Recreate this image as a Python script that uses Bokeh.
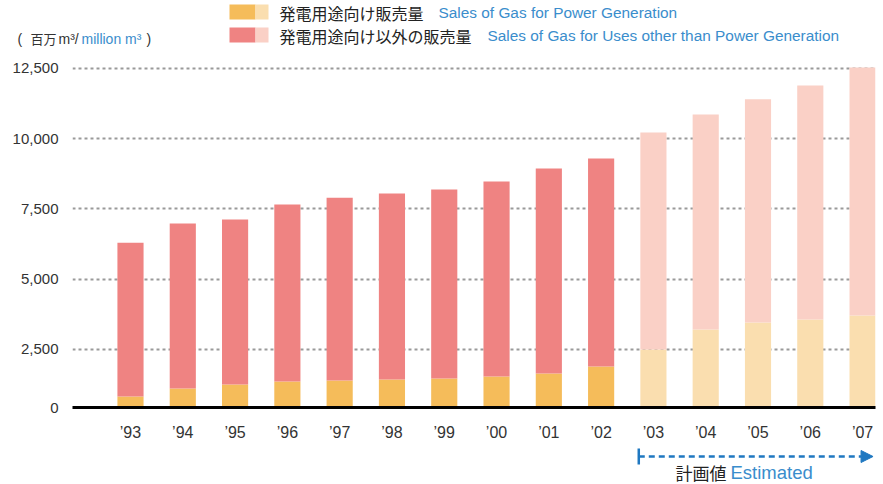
from bokeh.plotting import figure
from bokeh.layouts import column, row
from bokeh.models import (Range1d, FixedTicker, Label, Arrow,
                          NormalHead, TeeHead, ColumnDataSource)
from bokeh.embed import file_html
from bokeh.resources import INLINE

# ---------------- data ----------------
years = ["’93", "’94", "’95", "’96", "’97", "’98", "’99", "’00",
         "’01", "’02", "’03", "’04", "’05", "’06", "’07"]
power_gen = [830, 1110, 1255, 1360, 1400, 1435, 1470, 1540,
             1650, 1895, 2500, 3210, 3460, 3570, 3710]
other_uses = [5470, 5870, 5865, 6300, 6500, 6615, 6720, 6930,
              7290, 7395, 7720, 7650, 7940, 8320, 8820]
n_actual = 10          # '93-'02 actual, '03-'07 estimated
y_ticks = [2500, 5000, 7500, 10000, 12500]

# ---------------- style ----------------
DARK = "#333333"
BLUE_TXT = "#3a8dcc"
BLUE_ARROW = "#1f78c1"
C_POW, C_POW_EST = "#f5bc5a", "#fadeaf"
C_OTH, C_OTH_EST = "#ef8382", "#fad0c6"
LATIN = "Liberation Sans"
CJK = "Noto Sans CJK JP"

W = 883
TOP_H, MAIN_H, BOT_H = 50, 395, 39
ML, MR, MT, MB = 72, 8, 0, 38
FW = W - ML - MR
X0, X1 = -1.109, len(years) - 1 + 0.247
Y0, Y1 = 437, 13133

def xpage(i):
    return ML + (i - X0) / (X1 - X0) * FW

def blank(h, y_top):
    f = figure(width=W, height=h, output_backend="svg", toolbar_location=None,
               x_range=Range1d(0, W), y_range=Range1d(y_top + h, y_top),
               min_border=0, min_border_left=0, min_border_right=0,
               min_border_top=0, min_border_bottom=0,
               x_axis_location=None, y_axis_location=None)
    f.outline_line_color = None
    f.xgrid.visible = False
    f.ygrid.visible = False
    return f

def lab(f, text, px, py, color=DARK, font=LATIN, size="15px"):
    f.add_layout(Label(x=px, y=py, text=text, text_color=color,
                       text_font=font, text_font_size=size,
                       text_baseline="middle", text_align="left"))

# ---------------- top: legend + unit ----------------
top = blank(TOP_H, 0)
for (t, b), c1, c2 in [((4, 19), C_POW, C_POW_EST), ((27, 42), C_OTH, C_OTH_EST)]:
    top.quad(left=[229, 255], right=[255, 268], top=[t, t], bottom=[b, b],
             fill_color=[c1, c2], line_color=None)
lab(top, "発電用途向け販売量", 279, 12, color="#222222", font=CJK, size="16px")
lab(top, "Sales of Gas for Power Generation", 438, 12, color=BLUE_TXT, size="15.4px")
lab(top, "発電用途向け以外の販売量", 279, 35, color="#222222", font=CJK, size="16px")
lab(top, "Sales of Gas for Uses other than Power Generation", 487, 35, color=BLUE_TXT, size="15.4px")
lab(top, "(", 17, 38, size="14px")
lab(top, "百万", 30, 38, font=CJK, size="13px")
lab(top, "m³/", 58, 38, size="14px")
lab(top, "million m³", 81, 38, color=BLUE_TXT, size="14px")
lab(top, ")", 146, 38, size="14px")

# ---------------- main chart ----------------
xs = list(range(len(years)))
est = [i >= n_actual for i in xs]
totals = [a + b for a, b in zip(power_gen, other_uses)]
src = ColumnDataSource(dict(
    x=xs, power=power_gen, total=totals,
    c_pow=[C_POW_EST if e else C_POW for e in est],
    c_oth=[C_OTH_EST if e else C_OTH for e in est],
))

p = figure(width=W, height=MAIN_H, output_backend="svg", toolbar_location=None,
           x_range=Range1d(X0, X1), y_range=Range1d(Y0, Y1),
           min_border_left=ML, min_border_right=MR,
           min_border_top=MT, min_border_bottom=MB)
p.outline_line_color = None

p.vbar(x="x", width=0.5, bottom=0, top="power", fill_color="c_pow",
       line_color=None, source=src)
p.vbar(x="x", width=0.5, bottom="power", top="total", fill_color="c_oth",
       line_color=None, source=src)

p.xaxis.ticker = FixedTicker(ticks=xs)
p.xaxis.major_label_overrides = {i: y for i, y in zip(xs, years)}
p.xaxis.axis_line_color = "black"
p.xaxis.axis_line_width = 3
p.xaxis.major_tick_line_color = None
p.xaxis.minor_tick_line_color = None
p.xaxis.major_label_standoff = 10
p.xaxis.major_label_text_font = LATIN
p.xaxis.major_label_text_font_size = "16px"
p.xaxis.major_label_text_color = DARK

p.yaxis.ticker = FixedTicker(ticks=[Y0] + y_ticks)
p.yaxis.major_label_overrides = {Y0: "0", **{t: f"{t:,}" for t in y_ticks}}
p.yaxis.axis_line_color = None
p.yaxis.major_tick_line_color = None
p.yaxis.minor_tick_line_color = None
p.yaxis.major_label_standoff = 8
p.yaxis.major_label_text_font = LATIN
p.yaxis.major_label_text_font_size = "15px"
p.yaxis.major_label_text_color = DARK

p.xgrid.grid_line_color = None
p.ygrid.grid_line_color = "#9a9a9a"
p.ygrid.grid_line_width = 2
p.ygrid.grid_line_dash = "3 3"

# ---------------- bottom: estimated arrow ----------------
bot = blank(BOT_H, TOP_H + MAIN_H)
bot.add_layout(Arrow(x_start=xpage(n_actual - 0.28), y_start=456,
                     x_end=xpage(len(years) - 1 + 0.2), y_end=456,
                     line_color=BLUE_ARROW, line_width=2.5, line_dash="6 4",
                     start=TeeHead(size=16, line_color=BLUE_ARROW, line_width=2.5),
                     end=NormalHead(size=12, fill_color=BLUE_ARROW, line_color=BLUE_ARROW)))
lab(bot, "計画値", 675, 472, color="#222222", font=CJK, size="17px")
lab(bot, "Estimated", 730, 472, color=BLUE_TXT, size="18.5px")

layout = column(row(top), p, row(bot), spacing=0)
open("out.html", "w").write(file_html(layout, INLINE))
